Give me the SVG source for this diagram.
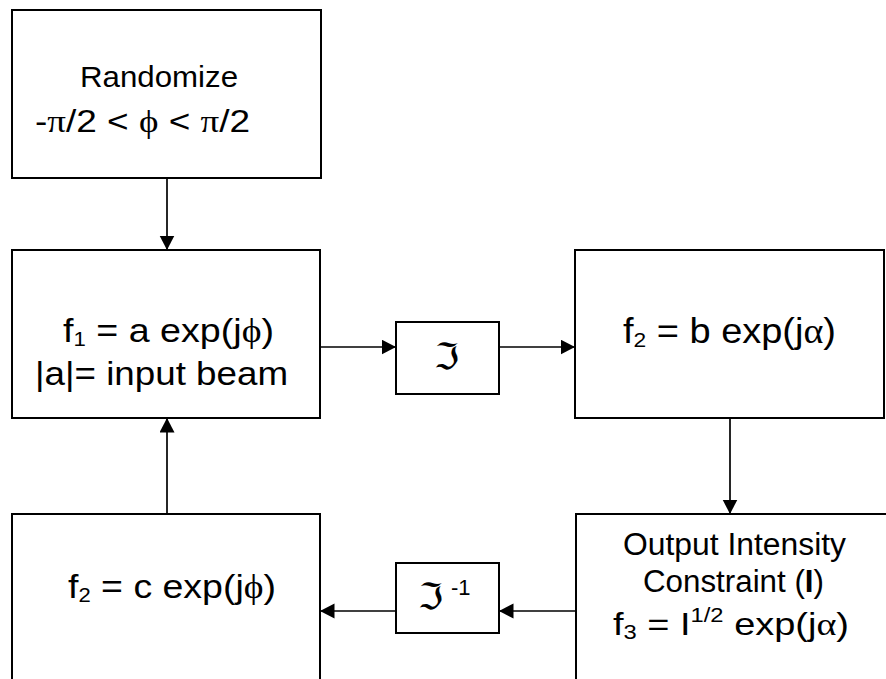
<svg xmlns="http://www.w3.org/2000/svg" width="886" height="679" viewBox="0 0 886 679">
<style>
.box{fill:#fff;stroke:#000;stroke-width:2}
.t{font-family:"Liberation Sans",Arial,sans-serif;fill:#000}
.g{font-family:"Liberation Serif","DejaVu Serif",serif}
.fr{font-family:"DejaVu Serif","DejaVu Sans",serif}
.c{stroke:#000;stroke-width:1.7;fill:none;marker-end:url(#ah)}
</style>
<defs>
<marker id="ah" markerUnits="userSpaceOnUse" markerWidth="16" markerHeight="16" refX="14.5" refY="7.5" orient="auto">
<path d="M0,0 L14.5,7.5 L0,15 Z" fill="#000"/>
</marker>
</defs>
<rect width="886" height="679" fill="#fff"/>
<g id="connectors">
<line class="c" x1="167" y1="178" x2="167" y2="250"/>
<line class="c" x1="320" y1="347" x2="396" y2="347"/>
<line class="c" x1="499" y1="347" x2="575" y2="347"/>
<line class="c" x1="730" y1="418" x2="730" y2="514"/>
<line class="c" x1="576" y1="611" x2="499" y2="611"/>
<line class="c" x1="396" y1="611" x2="320" y2="611"/>
<line class="c" x1="167" y1="514" x2="167" y2="418"/>
</g>
<g id="randomize">
<rect class="box" x="12" y="10" width="309" height="168"/>
<text class="t" x="80" y="87" font-size="29" textLength="158" lengthAdjust="spacingAndGlyphs">Randomize</text>
<text class="t" x="35" y="132" font-size="32" textLength="215" lengthAdjust="spacingAndGlyphs">-<tspan class="g">π</tspan>/2 &lt; <tspan class="g">ϕ</tspan> &lt; <tspan class="g">π</tspan>/2</text>
</g>
<g id="f1">
<rect class="box" x="12" y="250" width="308" height="168"/>
<text class="t" x="63" y="342" font-size="34" textLength="211" lengthAdjust="spacingAndGlyphs">f<tspan font-size="20" dy="4">1</tspan><tspan dy="-4"> = a exp(j</tspan><tspan class="g">ϕ</tspan>)</text>
<text class="t" x="35" y="385" font-size="34" textLength="253" lengthAdjust="spacingAndGlyphs">|a|= input beam</text>
</g>
<g id="ft">
<rect class="box" x="396" y="322" width="103" height="72"/>
<text class="fr" x="446.5" y="369" font-size="36" text-anchor="middle">ℑ</text>
</g>
<g id="f2b">
<rect class="box" x="575" y="250" width="309" height="168"/>
<text class="t" x="623" y="343" font-size="35" textLength="213" lengthAdjust="spacingAndGlyphs">f<tspan font-size="21" dy="4">2</tspan><tspan dy="-4"> = b exp(j</tspan><tspan class="g">α</tspan>)</text>
</g>
<g id="output">
<rect class="box" x="576" y="514" width="320" height="200"/>
<text class="t" x="623" y="555" font-size="31" textLength="223" lengthAdjust="spacingAndGlyphs">Output Intensity</text>
<text class="t" x="643" y="592" font-size="31" textLength="181" lengthAdjust="spacingAndGlyphs">Constraint (<tspan font-weight="bold">I</tspan>)</text>
<text class="t" x="613" y="635" font-size="32" textLength="236" lengthAdjust="spacingAndGlyphs">f<tspan font-size="20" dy="4">3</tspan><tspan dy="-4"> = I</tspan><tspan font-size="20" dy="-13">1/2</tspan><tspan dy="13"> exp(j</tspan><tspan class="g">α</tspan>)</text>
</g>
<g id="fit">
<rect class="box" x="396" y="563" width="103" height="70"/>
<text class="fr" x="430.5" y="609" font-size="36" text-anchor="middle">ℑ</text>
<text class="t" x="451" y="595" font-size="22">-1</text>
</g>
<g id="f2c">
<rect class="box" x="12" y="514" width="308" height="200"/>
<text class="t" x="68" y="598" font-size="34" textLength="208" lengthAdjust="spacingAndGlyphs">f<tspan font-size="20" dy="4">2</tspan><tspan dy="-4"> = c exp(j</tspan><tspan class="g">ϕ</tspan>)</text>
</g>
</svg>
